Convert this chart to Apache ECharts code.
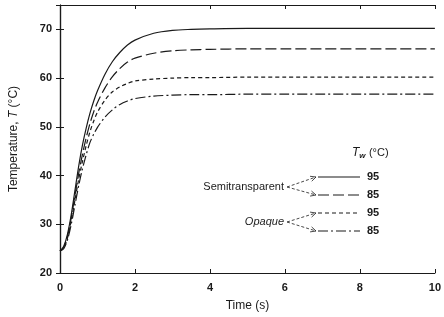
<!DOCTYPE html>
<html>
<head>
<meta charset="utf-8">
<script src="https://cdn.jsdelivr.net/npm/echarts@6/dist/echarts.min.js"></script>
<style>
  html, body { margin: 0; padding: 0; background: #fff; }
  #chart { width: 444px; height: 317px; }
</style>
</head>
<body>
<div id="chart"></div>
<script>
// time points (s)
const times = [0, 0.1, 0.2, 0.3, 0.4, 0.5, 0.6, 0.7, 0.8, 0.9, 1.0, 1.2, 1.4, 1.6, 1.8, 2.0, 2.5, 3, 3.5, 4, 5, 6, 7, 8, 9, 10];

// temperatures (°C)
const semi95 = [24.5, 25.5, 28, 32, 37, 42, 46.3, 49.8, 52.8, 55.3, 57.4, 60.8, 63.4, 65.3, 66.8, 67.8, 69.2, 69.8, 70, 70.1, 70.2, 70.2, 70.2, 70.2, 70.2, 70.2];
const semi85 = [24.5, 25.3, 27.5, 31.3, 36, 40.5, 44.4, 47.8, 50.7, 53.1, 55, 58, 60.3, 62, 63.3, 64.1, 65.1, 65.6, 65.8, 65.9, 66, 66, 66, 66, 66, 66];
const opaque95 = [24.5, 25.2, 27.2, 30.8, 35, 39.3, 42.9, 46.2, 49, 51.2, 53, 55.5, 57.2, 58.2, 58.9, 59.4, 59.8, 60, 60.1, 60.1, 60.2, 60.2, 60.2, 60.2, 60.2, 60.2];
const opaque85 = [24.5, 25, 26.8, 30, 34, 38, 41.4, 44.3, 46.8, 48.5, 49.9, 52, 53.5, 54.6, 55.3, 55.8, 56.3, 56.5, 56.6, 56.6, 56.7, 56.7, 56.7, 56.7, 56.7, 56.7];

const xTicks = [0, 2, 4, 6, 8, 10];
const yTicks = [20, 30, 40, 50, 60, 70];

const ink = '#1a1a1a';
const font = 'Liberation Sans, Arial, sans-serif';

const pair = (ys) => times.map((t, i) => [t, ys[i]]);

const chart = echarts.init(document.getElementById('chart'), null, { renderer: 'canvas' });

const lineSeries = (name, ys, dash) => ({
  name: name,
  type: 'line',
  data: pair(ys),
  smooth: 0.3,
  showSymbol: false,
  lineStyle: { color: ink, width: 1.2, type: dash },
  animation: false
});

// legend annotation (drawn like the figure, with arrows)
const legX1 = 318, legX2 = 360;
const legRows = [177, 195, 213, 231];
const legDash = [null, [11, 4], [4, 3], [10, 3, 2, 3]];
const legLabels = ['95', '85', '95', '85'];

const graphics = [];
legRows.forEach((y, i) => {
  graphics.push({
    type: 'line',
    shape: { x1: legX1, y1: y, x2: legX2, y2: y },
    style: { stroke: ink, lineWidth: 1.2, lineDash: legDash[i] }
  });
  graphics.push({
    type: 'text',
    x: 367, y: y,
    style: { text: legLabels[i], font: 'bold 11px ' + font, fill: ink, verticalAlign: 'middle' }
  });
});

function arrow(x0, y0, x1, y1) {
  graphics.push({
    type: 'line',
    shape: { x1: x0, y1: y0, x2: x1, y2: y1 },
    style: { stroke: ink, lineWidth: 0.8, lineDash: [3, 2] }
  });
  const a = Math.atan2(y1 - y0, x1 - x0);
  const L = 6, w = 0.45;
  graphics.push({
    type: 'polyline',
    shape: { points: [
      [x1 - L * Math.cos(a - w), y1 - L * Math.sin(a - w)],
      [x1, y1],
      [x1 - L * Math.cos(a + w), y1 - L * Math.sin(a + w)]
    ] },
    style: { stroke: ink, lineWidth: 0.8, fill: null }
  });
}
arrow(287, 187, 316, 177);
arrow(287, 187, 316, 195);
arrow(287, 222, 316, 213);
arrow(287, 222, 316, 231);

graphics.push({
  type: 'text', x: 284, y: 187,
  style: { text: 'Semitransparent', font: '11px ' + font, fill: ink, align: 'right', verticalAlign: 'middle' }
});
graphics.push({
  type: 'text', x: 284, y: 222,
  style: { text: 'Opaque', font: 'italic 11px ' + font, fill: ink, align: 'right', verticalAlign: 'middle' }
});
graphics.push({
  type: 'text', x: 352, y: 153,
  style: {
    text: '{t|T}{s|w} {n|(°C)}',
    verticalAlign: 'middle',
    rich: {
      t: { font: 'italic 12px ' + font, fill: ink },
      s: { font: 'italic bold 8px ' + font, fill: ink, verticalAlign: 'bottom', padding: [6, 0, 0, 0] },
      n: { font: '11px ' + font, fill: ink }
    }
  }
});

const axisCommon = {
  axisLine: { show: true, lineStyle: { color: ink, width: 1.2 } },
  axisTick: { show: true, inside: true, length: 4, lineStyle: { color: ink, width: 1 } },
  splitLine: { show: false }
};

const option = {
  backgroundColor: '#fff',
  animation: false,
  grid: { left: 60, right: 7, top: 5, bottom: 42 },
  xAxis: [
    Object.assign({
      type: 'value', min: xTicks[0], max: xTicks[xTicks.length - 1], interval: 2,
      name: 'Time (s)', nameLocation: 'middle', nameGap: 27,
      nameTextStyle: { fontFamily: font, fontSize: 12, color: ink },
      axisLabel: { color: ink, fontFamily: font, fontSize: 11, fontWeight: 'bold', margin: 9 }
    }, axisCommon),
    Object.assign({
      type: 'value', position: 'top', min: 0, max: 10, interval: 2,
      axisLabel: { show: false }
    }, axisCommon)
  ],
  yAxis: [
    Object.assign({
      type: 'value', min: yTicks[0], max: 75, interval: 10,
      name: '{a|Temperature, }{b|T}{a| (°C)}', nameLocation: 'middle', nameGap: 40,
      nameTextStyle: {
        rich: {
          a: { fontFamily: font, fontSize: 12, color: ink },
          b: { fontFamily: font, fontSize: 12, fontStyle: 'italic', color: ink }
        }
      },
      axisLabel: { color: ink, fontFamily: font, fontSize: 11, fontWeight: 'bold', margin: 8, showMaxLabel: false }
    }, axisCommon),
    Object.assign({
      type: 'value', position: 'right', min: 20, max: 75, interval: 10,
      axisLabel: { show: false }
    }, axisCommon)
  ],
  series: [
    lineSeries('Semitransparent 95', semi95, 'solid'),
    lineSeries('Semitransparent 85', semi85, [11, 4]),
    lineSeries('Opaque 95', opaque95, [4, 3]),
    lineSeries('Opaque 85', opaque85, [10, 3, 2, 3])
  ],
  graphic: graphics
};

chart.setOption(option);
</script>
</body>
</html>
